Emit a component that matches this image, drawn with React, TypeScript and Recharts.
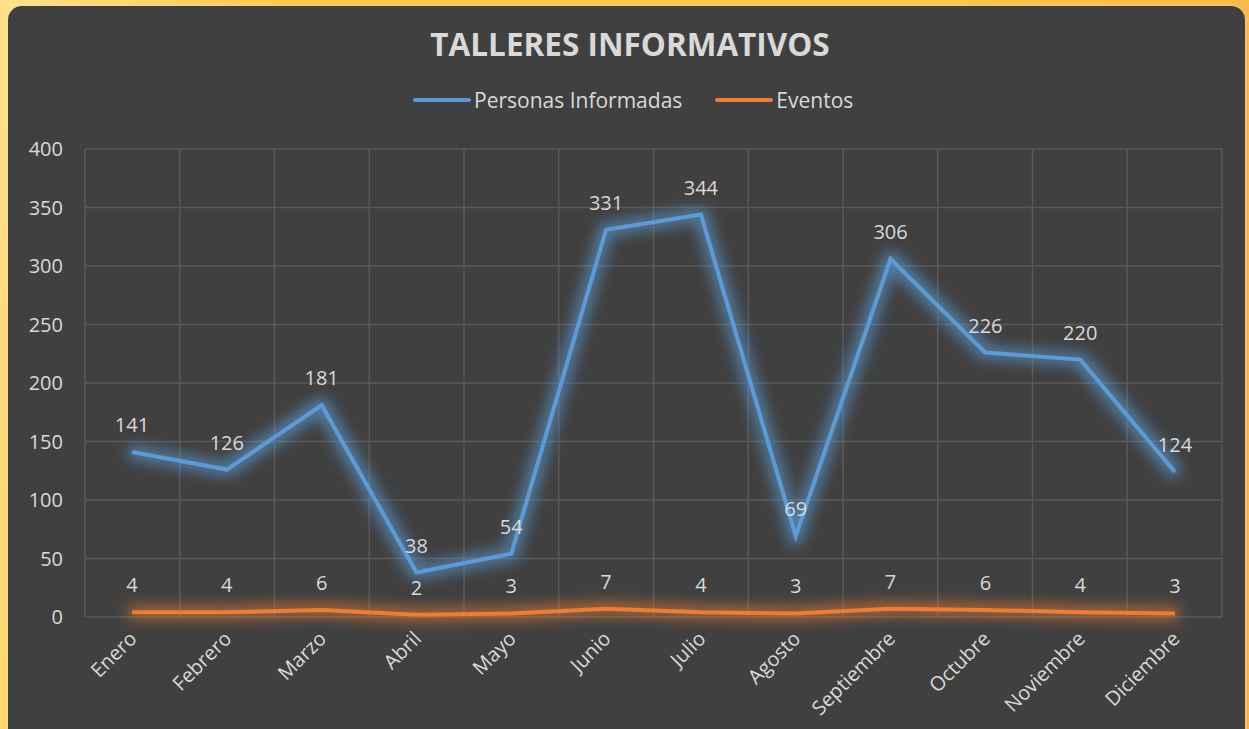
import React from 'react';
import { LineChart, Line, XAxis, YAxis, CartesianGrid, LabelList } from 'recharts';

const months = [
  'Enero', 'Febrero', 'Marzo', 'Abril', 'Mayo', 'Junio',
  'Julio', 'Agosto', 'Septiembre', 'Octubre', 'Noviembre', 'Diciembre',
];
const personasInformadas = [141, 126, 181, 38, 54, 331, 344, 69, 306, 226, 220, 124];
const eventos = [4, 4, 6, 2, 3, 7, 4, 3, 7, 6, 4, 3];
const yTicks = [0, 50, 100, 150, 200, 250, 300, 350, 400];

const series = [
  { key: 'personas', name: 'Personas Informadas', color: '#5B9BD5', glow: 'glowBlue' },
  { key: 'eventos', name: 'Eventos', color: '#ED7D31', glow: 'glowOrange' },
];

const chartData = months.map((m, i) => ({
  month: m,
  personas: personasInformadas[i],
  eventos: eventos[i],
}));

const FONT = '"Open Sans", "Noto Sans", sans-serif';
const TEXT = '#d9d9d9';

// rotated month labels, anchored at their right end
const MonthTick = ({ x, y, payload }: any) => {
  const tx = x + 6;
  const ty = y + 15;
  return (
    <text
      x={tx}
      y={ty}
      transform={`rotate(-45, ${tx}, ${ty})`}
      textAnchor="end"
      fill={TEXT}
      fontSize={20}
      fontFamily={FONT}
    >
      {payload.value}
    </text>
  );
};

// grid lines on the category boundaries, like the Excel original
const bandBoundaries = ({ offset }: any) =>
  Array.from({ length: months.length + 1 }, (_, i) => offset.left + (i * offset.width) / months.length);

export default function App() {
  return (
    <div
      style={{
        position: 'absolute',
        left: 0,
        top: 0,
        width: 1249,
        height: 729,
        overflow: 'hidden',
        background: 'linear-gradient(100deg, #FFE08A 0%, #FFC94D 20%, #FFC44A 70%, #F9B646 100%)',
        fontFamily: FONT,
      }}
    >
      <svg width={0} height={0} style={{ position: 'absolute' }}>
        <defs>
          {series.map((s) => (
            <filter
              key={s.glow}
              id={s.glow}
              filterUnits="userSpaceOnUse"
              x={0}
              y={0}
              width={1249}
              height={729}
            >
              <feMorphology in="SourceGraphic" operator="dilate" radius={4} result="wide" />
              <feGaussianBlur in="wide" stdDeviation={7} result="blur" />
              <feComponentTransfer in="blur" result="soft">
                <feFuncA type="linear" slope={0.7} />
              </feComponentTransfer>
              <feMerge>
                <feMergeNode in="soft" />
                <feMergeNode in="SourceGraphic" />
              </feMerge>
            </filter>
          ))}
        </defs>
      </svg>

      <div
        style={{
          position: 'absolute',
          left: 8,
          top: 6,
          width: 1237,
          height: 760,
          background: '#404040',
          borderRadius: 14,
          boxShadow: '0 0 0 1px rgba(220,220,220,0.35)',
        }}
      />

      <div
        style={{
          position: 'absolute',
          left: 0,
          top: 22,
          width: 1260,
          textAlign: 'center',
          color: TEXT,
          fontSize: 31.5,
          fontWeight: 700,
        }}
      >
        TALLERES INFORMATIVOS
      </div>

      <div
        style={{
          position: 'absolute',
          left: 413,
          top: 86,
          display: 'flex',
          alignItems: 'center',
          color: TEXT,
          fontSize: 21,
        }}
      >
        {series.map((s, i) => (
          <div key={s.key} style={{ display: 'flex', alignItems: 'center', marginRight: i === 0 ? 33 : 0 }}>
            <div style={{ width: 58, height: 4, background: s.color, borderRadius: 2, marginRight: 3 }} />
            <span>{s.name}</span>
          </div>
        ))}
      </div>

      <div style={{ position: 'absolute', left: 0, top: 0 }}>
        <LineChart
          width={1249}
          height={729}
          data={chartData}
          margin={{ top: 149, right: 27, bottom: 12, left: 0 }}
        >
          <CartesianGrid
            stroke="#595959"
            strokeWidth={1.5}
            verticalCoordinatesGenerator={bandBoundaries}
          />
          <XAxis
            dataKey="month"
            interval={0}
            padding={{ left: 47, right: 47 }}
            axisLine={false}
            tickLine={false}
            height={100}
            tick={<MonthTick />}
          />
          <YAxis
            domain={[0, 400]}
            ticks={yTicks}
            width={85}
            axisLine={false}
            tickLine={false}
            tickMargin={16}
            tick={{ fill: TEXT, fontSize: 20, fontFamily: FONT }}
          />
          {series.map((s) => (
            <Line
              key={s.key}
              dataKey={s.key}
              name={s.name}
              type="linear"
              stroke={s.color}
              strokeWidth={4}
              dot={false}
              activeDot={false}
              filter={`url(#${s.glow})`}
              isAnimationActive={false}
            >
              <LabelList
                dataKey={s.key}
                position="top"
                offset={20}
                fill={TEXT}
                fontSize={20}
                fontFamily={FONT}
              />
            </Line>
          ))}
        </LineChart>
      </div>
    </div>
  );
}
